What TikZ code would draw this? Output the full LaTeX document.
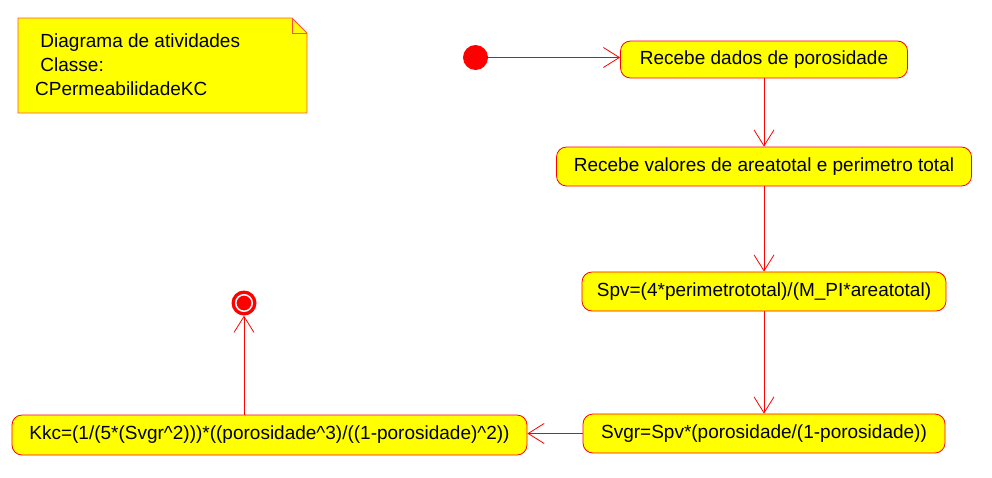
\documentclass[tikz,border=0pt]{standalone}
\usepackage{fontspec}
\setmainfont{Liberation Sans}
\usetikzlibrary{arrows.meta}
\definecolor{umlred}{RGB}{255,0,0}
\definecolor{notered}{RGB}{255,80,80}
\definecolor{umlyellow}{RGB}{255,255,0}
\begin{document}
\begin{tikzpicture}[x=1pt, y=-1pt,
        activity/.style={draw=umlred, fill=umlyellow, line width=0.8pt, rounded corners=10pt,
            inner sep=0pt, font=\fontsize{19}{23}\selectfont},
        flow/.style={draw=umlred, line width=0.8pt, -{Straight Barb[length=16pt, width=20pt]}}]

                    \useasboundingbox (0, 0) rectangle (992, 477);

                    % note
                    \draw[draw=notered, fill=umlyellow, line width=0.8pt] (18, 18) -- (292, 18) -- (307, 33) -- (307, 113) -- (18, 113) -- cycle;
                    \draw[draw=notered, line width=0.8pt] (292, 18) -- (292, 33) -- (307, 33);
                    \node[anchor=west, align=left, inner sep=0pt, font=\fontsize{19}{24}\selectfont] (note) at (35, 65)
                        {\ Diagrama de atividades\\ \ Classe:\\CPermeabilidadeKC};

                    \node[circle, fill=umlred, minimum size=25pt, inner sep=0pt] (start) at (475.5, 57.5) {};

                    \node[activity, minimum width=287pt, minimum height=37pt] (recebe) at (764, 59.5) {Recebe dados de porosidade};
                    \node[activity, minimum width=415pt, minimum height=39pt] (valores) at (764, 166.5) {Recebe valores de areatotal e perimetro total};
                    \node[activity, minimum width=364pt, minimum height=39pt] (spv) at (764, 291.5) {Spv=(4*perimetrototal)/(M\_PI*areatotal)};
                    \node[activity, minimum width=362pt, minimum height=39pt] (svgr) at (764, 433.5) {Svgr=Spv*(porosidade/(1-porosidade))};
                    \node[activity, minimum width=515pt, minimum height=40pt] (kkc) at (269.5, 435) {Kkc=(1/(5*(Svgr\textasciicircum 2)))*((porosidade\textasciicircum 3)/((1-porosidade)\textasciicircum 2))};

                    \node[circle, fill=umlred, minimum size=25pt, inner sep=0pt] (end) at (244, 303) {};
                    \node[circle, fill=umlred, draw=white, line width=1.5pt, minimum size=16.5pt, inner sep=0pt] (endring) at (end) {};

                    \draw[flow] (start.east) -- (start.east -| recebe.west);
                    \draw[flow] (recebe) -- (valores);
                    \draw[flow] (valores) -- (spv);
                    \draw[flow] (spv) -- (svgr);
                    \draw[flow] (svgr.west) -- (svgr.west -| kkc.east);
                    \draw[flow] (end |- kkc.north) -- (end);
                \end{tikzpicture}
\end{document}
